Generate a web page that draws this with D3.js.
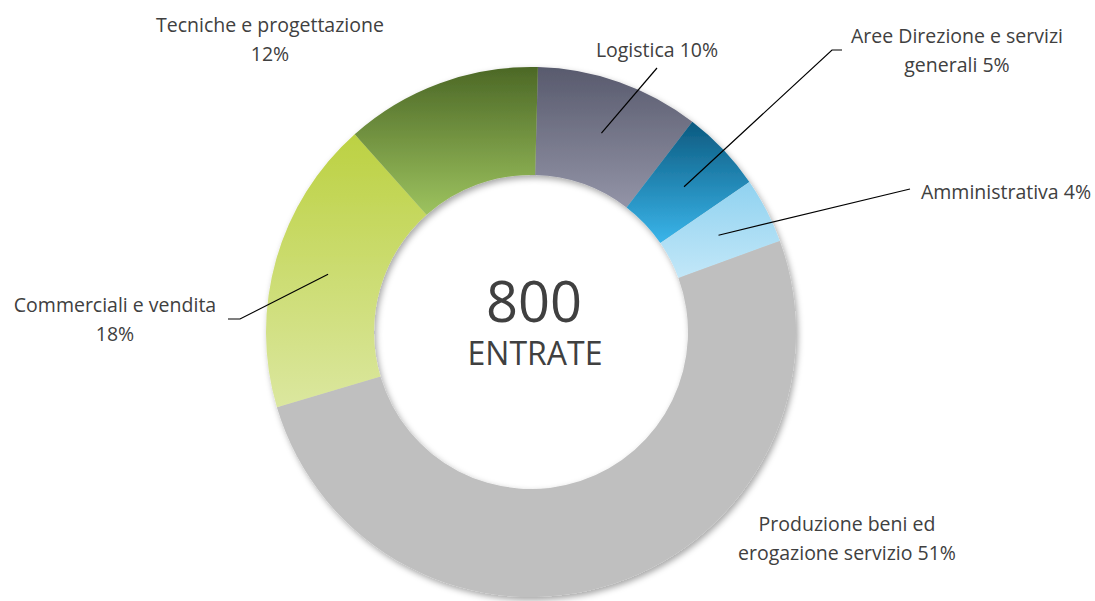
<!DOCTYPE html>
<html lang="it">
<head>
    <meta charset="UTF-8">
    <script src="https://d3js.org/d3.v7.min.js"></script>
    <title>Entrate per area</title>
    <style>
        body { margin: 0; background: #fff; }
        text { font-family: "Open Sans", "DejaVu Sans", sans-serif; fill: #404040; }
    </style>
</head>
<body>
<div id="chart"></div>
<script>
    // data
    const categories = ["Logistica", "Aree Direzione e servizi generali", "Amministrativa",
        "Produzione beni ed erogazione servizio", "Commerciali e vendita", "Tecniche e progettazione"];
    const percentages = [10, 5, 4, 51, 18, 12];
    const labelLines = [
        ["Logistica 10%"],
        ["Aree Direzione e servizi", "generali 5%"],
        ["Amministrativa 4%"],
        ["Produzione beni ed", "erogazione servizio 51%"],
        ["Commerciali e vendita", "18%"],
        ["Tecniche e progettazione", "12%"]
    ];
    const total = 800;
    const totalLabel = "ENTRATE";

    // gradient colours, top -> bottom
    const colorsTop = ["#585a6d", "#0c5a80", "#90d2f0", "#bfbfbf", "#bcd142", "#4c6826"];
    const colorsBottom = ["#9394a7", "#3ab5ea", "#c2e7f8", "#bfbfbf", "#dbe79f", "#9dc35f"];

    const width = 1095, height = 601;
    const cx = 531, cy = 332;
    const outerR = 265, innerR = 157;
    const offset = 1.5 * Math.PI / 180;

    // label placement: text position, leader end points (null = no leader)
    const labelPos = [
        {x: 657, y: 57, leader: [[657, 68]]},
        {x: 957, y: 43, leader: [[832, 50], [842, 50]]},
        {x: 1006, y: 199, leader: [[910, 189]]},
        {x: 847, y: 531, leader: null},
        {x: 115, y: 312, leader: [[240, 319], [228, 319]]},
        {x: 270, y: 32, leader: null}
    ];

    const svg = d3.select("#chart").append("svg")
        .attr("width", width)
        .attr("height", height);

    const defs = svg.append("defs");
    const shadow = defs.append("filter").attr("id", "shadow")
        .attr("x", "-10%").attr("y", "-10%").attr("width", "120%").attr("height", "120%");
    shadow.append("feDropShadow")
        .attr("dx", 2).attr("dy", 3).attr("stdDeviation", 3)
        .attr("flood-color", "#000").attr("flood-opacity", 0.35);

    percentages.forEach((p, i) => {
        const g = defs.append("linearGradient").attr("id", "grad" + i)
            .attr("x1", 0).attr("y1", 0).attr("x2", 0).attr("y2", 1);
        g.append("stop").attr("offset", "0%").attr("stop-color", colorsTop[i]);
        g.append("stop").attr("offset", "100%").attr("stop-color", colorsBottom[i]);
    });

    const pie = d3.pie().sort(null)
        .startAngle(offset).endAngle(2 * Math.PI + offset)
        .value(d => d);
    const arcs = pie(percentages);
    const arc = d3.arc().innerRadius(innerR).outerRadius(outerR);

    const ring = svg.append("g")
        .attr("transform", `translate(${cx},${cy})`)
        .attr("filter", "url(#shadow)");
    ring.selectAll("path")
        .data(arcs)
        .join("path")
        .attr("d", arc)
        .attr("fill", (d, i) => `url(#grad${i})`);

    // leader lines
    const lineGen = d3.line();
    arcs.forEach((d, i) => {
        const lp = labelPos[i];
        if (!lp.leader) return;
        const c = arc.centroid(d);
        const pts = [[c[0] + cx, c[1] + cy]].concat(lp.leader);
        svg.append("path")
            .attr("d", lineGen(pts))
            .attr("fill", "none")
            .attr("stroke", "#000")
            .attr("stroke-width", 1.2);
    });

    // labels
    labelLines.forEach((lines, i) => {
        const t = svg.append("text")
            .attr("x", labelPos[i].x)
            .attr("y", labelPos[i].y)
            .attr("text-anchor", "middle")
            .style("font-size", "19.5px");
        lines.forEach((l, j) => {
            t.append("tspan")
                .attr("x", labelPos[i].x)
                .attr("dy", j === 0 ? 0 : 29)
                .text(l);
        });
    });

    // centre text
    svg.append("text")
        .attr("x", cx + 3).attr("y", 322)
        .attr("text-anchor", "middle")
        .style("font-size", "56px")
        .text(total);
    svg.append("text")
        .attr("x", cx + 4).attr("y", 365)
        .attr("text-anchor", "middle")
        .style("font-size", "32px")
        .text(totalLabel);
</script>
</body>
</html>
